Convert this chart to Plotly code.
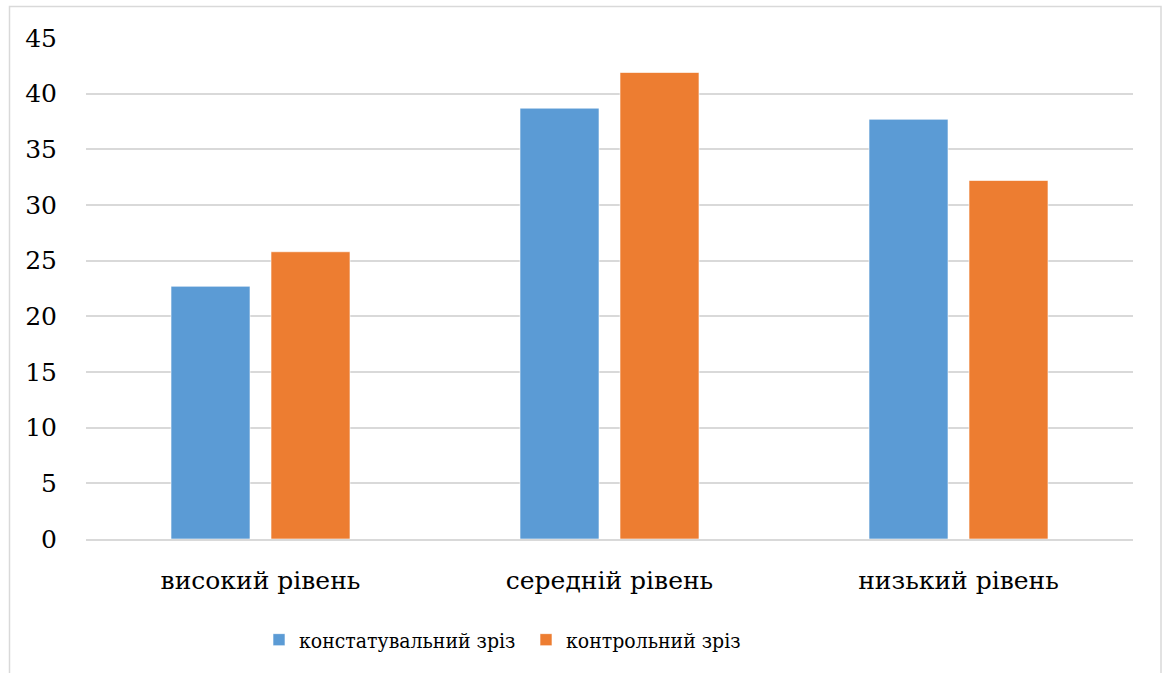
import plotly.graph_objects as go

categories = ["високий рівень", "середній рівень", "низький рівень"]
series_names = ["констатувальний зріз", "контрольний зріз"]
values_stating = [22.7, 38.7, 37.7]
values_control = [25.8, 41.9, 32.2]
y_ticks = [0, 5, 10, 15, 20, 25, 30, 35, 40, 45]

W, H = 1168, 673
L, R, T, B = 86, 35, 38, 134
pw, ph = W - L - R, H - T - B

def px(x):
    return (x - L) / pw

def py(y):
    return (H - B - y) / ph

FONT = "DejaVu Serif"
FONT_C = "DejaVu Serif Condensed, DejaVu Serif"

fig = go.Figure()
fig.add_trace(go.Bar(x=categories, y=values_stating, name=series_names[0],
                     marker=dict(color="#5B9BD5", line=dict(color="rgba(255,255,255,0.6)", width=1)),
                     showlegend=True, legend="legend"))
fig.add_trace(go.Bar(x=categories, y=values_control, name=series_names[1],
                     marker=dict(color="#ED7D31", line=dict(color="rgba(255,255,255,0.6)", width=1)),
                     showlegend=True, legend="legend2"))

fig.update_layout(
    width=W, height=H,
    showlegend=True,
    margin=dict(l=L, r=R, t=T, b=B),
    paper_bgcolor="white", plot_bgcolor="white",
    barmode="group", bargap=0.427, bargroupgap=0.21,
    font=dict(family=FONT, size=25, color="black"),
    xaxis=dict(showgrid=False, showline=True, linecolor="#d9d9d9", linewidth=1.5,
               ticks="", tickfont=dict(family=FONT, size=25), ticklabelstandoff=18),
    yaxis=dict(range=[0, 45], tickvals=y_ticks, showgrid=True, gridcolor="#d9d9d9",
               gridwidth=1.5, zeroline=False, showline=False, ticks="",
               tickfont=dict(family=FONT, size=25), ticklabelstandoff=28),
    legend=dict(orientation="h", x=px(259), y=py(640), xanchor="left", yanchor="middle",
                font=dict(family=FONT_C, size=21), bgcolor="rgba(0,0,0,0)"),
    legend2=dict(orientation="h", x=px(526), y=py(640), xanchor="left", yanchor="middle",
                 font=dict(family=FONT_C, size=21), bgcolor="rgba(0,0,0,0)"),
    shapes=[dict(type="rect", xref="paper", yref="paper",
                 x0=px(9.5), x1=px(1161), y0=py(700), y1=py(6.5),
                 line=dict(color="#d9d9d9", width=1.5), layer="below")],
)

fig.write_html("out.html")
